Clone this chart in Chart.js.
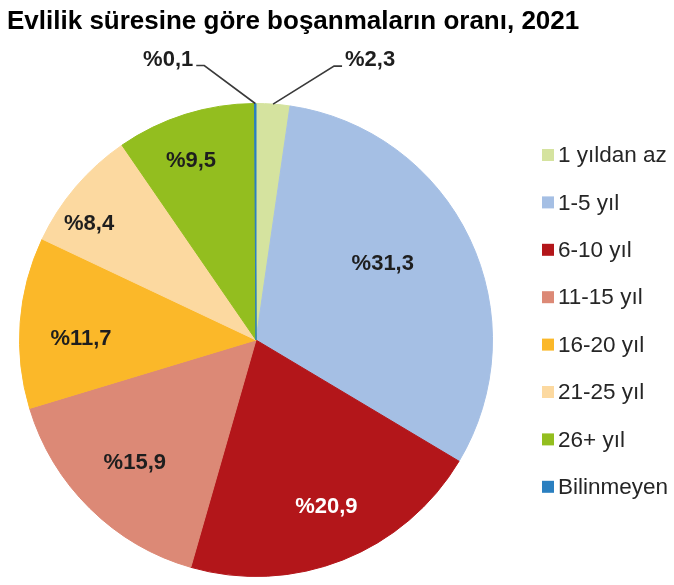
<!DOCTYPE html>
<html><head><meta charset="utf-8">
<script src="https://cdn.jsdelivr.net/npm/chart.js@4/dist/chart.umd.min.js"></script>
<style>
html,body{margin:0;padding:0;background:#fff;}
#wrap{position:relative;width:674px;height:585px;}
canvas{position:absolute;left:0;top:0;}
</style></head><body>
<div id="wrap"><canvas id="c" width="674" height="585"></canvas></div>
<script>
const chartTitle = 'Evlilik süresine göre boşanmaların oranı, 2021';
const categories = ['1 yıldan az','1-5 yıl','6-10 yıl','11-15 yıl','16-20 yıl','21-25 yıl','26+ yıl','Bilinmeyen'];
const shares = [2.3, 31.3, 20.9, 15.9, 11.7, 8.4, 9.5, 0.1];
const valueLabels = ['%2,3','%31,3','%20,9','%15,9','%11,7','%8,4','%9,5','%0,1'];
const sliceColors = ['#d5e39f','#a5bfe4','#b3161a','#dc8976','#fbb829','#fcd9a0','#93be1f','#2a7fc0'];
const labelColors = ['#1e1e1e','#1e1e1e','#fff','#1e1e1e','#1e1e1e','#1e1e1e','#1e1e1e','#1e1e1e'];

// label placement style (radius fraction, angle shift in degrees, or outside leader)
const labelPlace = [
  {outside: 1}, {r: 0.625, da: -5.5}, {r: 0.765, da: -1.3}, {r: 0.73, da: 0},
  {r: 0.74, da: -3.9}, {r: 0.86, da: -5.5}, {r: 0.806, da: -2.5}, {outside: -1}
];

const FONT = '"Liberation Sans", Arial, sans-serif';

const drawPlugin = {
  id: 'drawExtras',
  afterDatasetsDraw(chart) {
    const ctx = chart.ctx;
    const meta = chart.getDatasetMeta(0);
    ctx.save();
    // title
    ctx.fillStyle = '#000';
    ctx.font = 'bold 26px ' + FONT;
    ctx.textAlign = 'left';
    ctx.textBaseline = 'alphabetic';
    ctx.fillText(chartTitle, 7, 29);
    // value labels
    meta.data.forEach((arc, i) => {
      const p = arc.getProps(['x','y','startAngle','endAngle','outerRadius'], true);
      const mid = (p.startAngle + p.endAngle) / 2;
      const pl = labelPlace[i];
      ctx.font = 'bold 22px ' + FONT;
      if (pl.outside) {
        const ex = p.x + Math.cos(mid) * p.outerRadius;
        const ey = p.y + Math.sin(mid) * p.outerRadius;
        const side = pl.outside;
        const kx = ex + side * (side > 0 ? 61 : 51);
        const ky = ey - 38;
        const hx = kx + side * 8;
        ctx.strokeStyle = '#3a3a3a';
        ctx.lineWidth = 1.6;
        ctx.beginPath();
        ctx.moveTo(ex, ey);
        ctx.lineTo(kx, ky);
        ctx.lineTo(hx, ky);
        ctx.stroke();
        ctx.fillStyle = labelColors[i];
        ctx.textBaseline = 'alphabetic';
        ctx.textAlign = side > 0 ? 'left' : 'right';
        ctx.fillText(valueLabels[i], hx + side * 3, ky);
      } else {
        const a = mid + (pl.da || 0) * Math.PI / 180;
        const r = p.outerRadius * pl.r;
        const lx = p.x + Math.cos(a) * r;
        const ly = p.y + Math.sin(a) * r;
        ctx.fillStyle = labelColors[i];
        ctx.textAlign = 'center';
        ctx.textBaseline = 'middle';
        ctx.fillText(valueLabels[i], lx, ly);
      }
    });
    // legend
    ctx.font = '22.5px ' + FONT;
    ctx.textAlign = 'left';
    ctx.textBaseline = 'middle';
    categories.forEach((c, i) => {
      const cy = 155 + i * 47.4;
      ctx.fillStyle = sliceColors[i];
      ctx.fillRect(542, cy - 6, 12, 12);
      ctx.fillStyle = '#262626';
      ctx.fillText(c, 558, cy + 1);
    });
    ctx.restore();
  }
};

new Chart(document.getElementById('c'), {
  type: 'pie',
  data: {
    labels: categories,
    datasets: [{
      data: shares,
      backgroundColor: sliceColors,
      borderColor: sliceColors,
      borderWidth: 1
    }]
  },
  options: {
    responsive: false,
    animation: false,
    layout: { padding: { left: 19, right: 181, top: 103, bottom: 8 } },
    plugins: { legend: { display: false }, tooltip: { enabled: false }, title: { display: false } }
  },
  plugins: [drawPlugin]
});
</script>
</body></html>
